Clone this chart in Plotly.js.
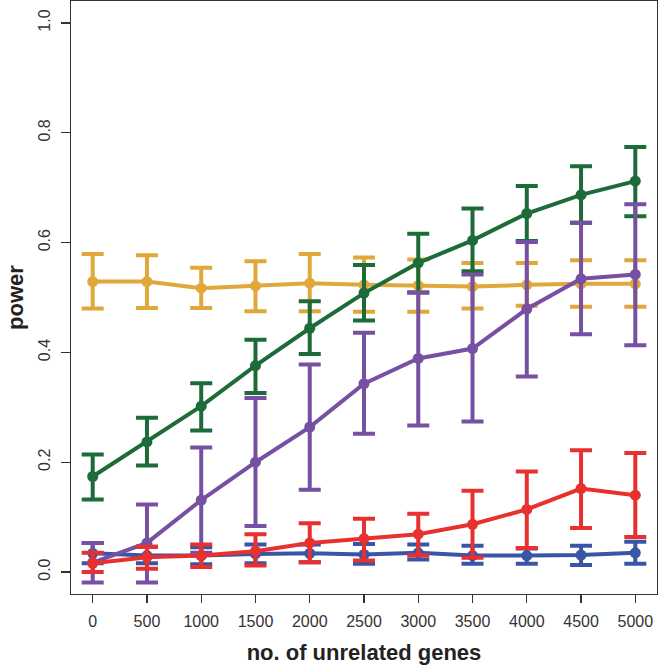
<!DOCTYPE html>
<html>
<head>
<meta charset="utf-8">
<script src="https://cdn.plot.ly/plotly-3.0.1.min.js"></script>
<style>html,body{margin:0;padding:0;background:#fff;}#chart{width:660px;height:667px;}</style>
</head>
<body>
<div id="chart"></div>
<script>
const nGenes = [0, 500, 1000, 1500, 2000, 2500, 3000, 3500, 4000, 4500, 5000];
const xTickLabels = ["0", "500", "1000", "1500", "2000", "2500", "3000", "3500", "4000", "4500", "5000"];

const goldMean  = [0.529, 0.529, 0.517, 0.521, 0.526, 0.523, 0.522, 0.520, 0.523, 0.525, 0.525];
const goldUpper = [0.579, 0.577, 0.554, 0.566, 0.579, 0.573, 0.569, 0.563, 0.563, 0.568, 0.568];
const goldLower = [0.480, 0.481, 0.481, 0.475, 0.475, 0.474, 0.474, 0.480, 0.485, 0.483, 0.483];

const greenMean  = [0.174, 0.237, 0.302, 0.376, 0.444, 0.508, 0.563, 0.604, 0.653, 0.687, 0.712];
const greenUpper = [0.214, 0.281, 0.344, 0.423, 0.493, 0.559, 0.616, 0.662, 0.703, 0.739, 0.774];
const greenLower = [0.132, 0.194, 0.258, 0.326, 0.397, 0.458, 0.509, 0.548, 0.603, 0.636, 0.648];

const purpleMean  = [0.017, 0.053, 0.131, 0.200, 0.264, 0.343, 0.389, 0.407, 0.479, 0.534, 0.542];
const purpleUpper = [0.053, 0.123, 0.227, 0.317, 0.378, 0.436, 0.509, 0.542, 0.601, 0.636, 0.670];
const purpleLower = [-0.019, -0.019, 0.035, 0.084, 0.150, 0.252, 0.267, 0.274, 0.356, 0.433, 0.413];

const redMean  = [0.016, 0.027, 0.030, 0.038, 0.053, 0.061, 0.069, 0.087, 0.114, 0.152, 0.140];
const redUpper = [0.035, 0.046, 0.050, 0.069, 0.089, 0.097, 0.106, 0.148, 0.183, 0.222, 0.217];
const redLower = [0.000, 0.006, 0.009, 0.012, 0.018, 0.021, 0.030, 0.026, 0.044, 0.080, 0.064];

const blueMean  = [0.034, 0.030, 0.030, 0.033, 0.034, 0.032, 0.035, 0.030, 0.030, 0.031, 0.035];
const blueUpper = [0.053, 0.046, 0.045, 0.050, 0.050, 0.051, 0.050, 0.048, 0.043, 0.048, 0.055];
const blueLower = [0.016, 0.016, 0.014, 0.016, 0.018, 0.015, 0.023, 0.015, 0.015, 0.013, 0.015];

function series(mean, upper, lower, color) {
  return {
    type: 'scatter', mode: 'lines+markers',
    x: nGenes, y: mean,
    line: {color: color, width: 4},
    marker: {color: color, size: 11},
    error_y: {
      type: 'data', symmetric: false,
      array: upper.map((u, i) => u - mean[i]),
      arrayminus: mean.map((m, i) => m - lower[i]),
      color: color, thickness: 4, width: 11
    },
    showlegend: false, hoverinfo: 'x+y'
  };
}

const data = [
  series(goldMean, goldUpper, goldLower, '#e0a83a'),
  series(blueMean, blueUpper, blueLower, '#3a55a5'),
  series(greenMean, greenUpper, greenLower, '#1d6b38'),
  series(purpleMean, purpleUpper, purpleLower, '#7650a2'),
  series(redMean, redUpper, redLower, '#e8312f')
];

const layout = {
  width: 660, height: 667,
  margin: {l: 71, r: 3, t: 1, b: 73},
  paper_bgcolor: '#fff', plot_bgcolor: '#fff',
  font: {family: 'Liberation Sans, Arial, sans-serif', color: '#333', size: 16},
  xaxis: {
    range: [-200, 5200], tickmode: 'array', tickvals: nGenes, ticktext: xTickLabels,
    showgrid: false, zeroline: false, showline: true, mirror: true,
    linecolor: '#333', linewidth: 1.3,
    ticks: 'outside', ticklen: 8, tickwidth: 1.3, tickcolor: '#333',
    ticklabelstandoff: 4,
    tickfont: {size: 16, color: '#333'},
    title: {text: 'no. of unrelated genes', font: {size: 22, color: '#222', weight: 'bold'}, standoff: 16}
  },
  yaxis: {
    range: [-0.04, 1.04], tickmode: 'array',
    tickvals: [0, 0.2, 0.4, 0.6, 0.8, 1.0], ticktext: ['0.0', '0.2', '0.4', '0.6', '0.8', '1.0'],
    showgrid: false, zeroline: false, showline: true, mirror: true,
    linecolor: '#333', linewidth: 1.3,
    ticks: 'outside', ticklen: 9, tickwidth: 1.3, tickcolor: '#333',
    ticklabelstandoff: 4,
    tickangle: -90, tickfont: {size: 16, color: '#333'},
    title: {text: 'power', font: {size: 22, color: '#222', weight: 'bold'}, standoff: 6}
  }
};

Plotly.newPlot('chart', data, layout, {staticPlot: true, displayModeBar: false});
</script>
</body>
</html>
